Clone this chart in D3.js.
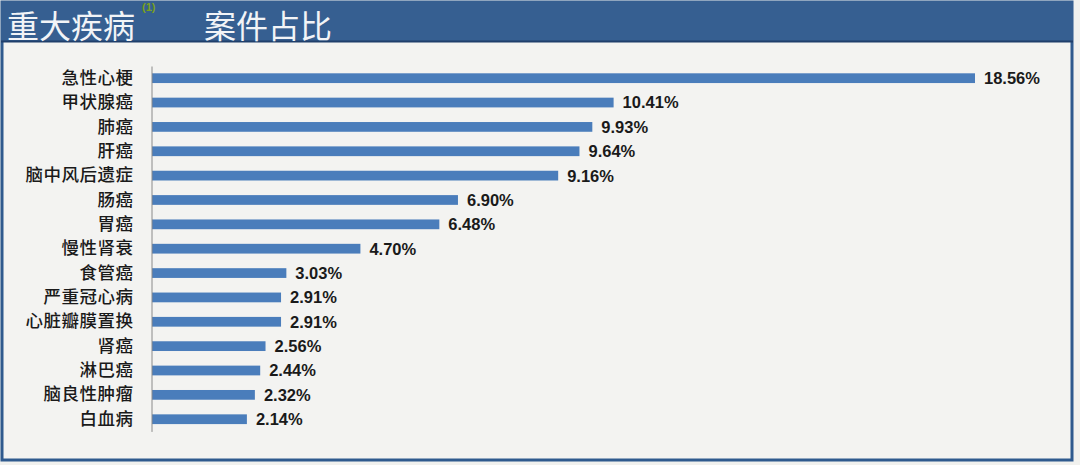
<!DOCTYPE html>
<html><head><meta charset="utf-8">
<script src="https://cdn.jsdelivr.net/npm/d3@7"></script>
<style>
html,body{margin:0;padding:0;background:#f1f1ee;}
svg{display:block;}
</style></head>
<body>
<svg id="c" width="1080" height="465"></svg>
<script>
const categories = ["急性心梗","甲状腺癌","肺癌","肝癌","脑中风后遗症","肠癌","胃癌","慢性肾衰","食管癌","严重冠心病","心脏瓣膜置换","肾癌","淋巴癌","脑良性肿瘤","白血病"];
const values = [18.56,10.41,9.93,9.64,9.16,6.90,6.48,4.70,3.03,2.91,2.91,2.56,2.44,2.32,2.14];
const titleLeft = "重大疾病";
const titleRight = "案件占比";
const badge = "(1)";

const svg = d3.select("#c");
svg.append("rect").attr("x",0).attr("y",0).attr("width",1080).attr("height",465).attr("fill","#f1f1ee");
// panel
svg.append("rect").attr("x",2).attr("y",2).attr("width",1070).attr("height",458)
  .attr("fill","#f3f3f1").attr("stroke","#2f5a8e").attr("stroke-width",3);
// header band
svg.append("rect").attr("x",1).attr("y",1).attr("width",1072).attr("height",40).attr("fill","#365f91");
svg.append("line").attr("x1",1).attr("x2",1073).attr("y1",41.5).attr("y2",41.5).attr("stroke","#1f3f6b").attr("stroke-width",2);
// green decorative fragment near the top-left
svg.append("text").attr("x",142).attr("y",11).attr("fill","#7aa11e").attr("font-size",11)
  .attr("font-family","Liberation Sans, sans-serif").attr("font-weight","bold").text(badge);
// titles
svg.append("text").attr("x",7).attr("y",38).attr("fill","#f2f4f7").attr("font-size",32)
  .attr("font-family","Noto Sans CJK SC").text(titleLeft);
svg.append("text").attr("x",204).attr("y",38).attr("fill","#f2f4f7").attr("font-size",32)
  .attr("font-family","Noto Sans CJK SC").text(titleRight);

const x = d3.scaleLinear().domain([0,18.56]).range([152,975]);
const y = d3.scaleBand().domain(categories).range([66,431.4]).paddingInner(0.6).paddingOuter(0.3);

svg.append("g").selectAll("rect").data(values).join("rect")
  .attr("x",x(0)).attr("y",(d,i)=>y(categories[i]))
  .attr("width",d=>x(d)-x(0)).attr("height",y.bandwidth())
  .attr("fill","#4a7dbb");

const ax = svg.append("g").attr("transform",`translate(${x(0)-0.5},0)`)
  .call(d3.axisLeft(y).tickSize(0).tickPadding(18));
ax.select(".domain").attr("stroke","#8a8a8a").attr("stroke-width",1);
ax.selectAll("text").attr("font-family","Noto Sans CJK SC").attr("font-weight",500)
  .attr("font-size",17.5).attr("letter-spacing","0.5px").attr("fill","#1a1a1a");

svg.append("g").selectAll("text").data(values).join("text")
  .attr("x",d=>x(d)+9).attr("y",(d,i)=>y(categories[i])+y.bandwidth()/2)
  .attr("dy","0.36em").attr("font-family","Liberation Sans, sans-serif").attr("font-weight","bold")
  .attr("font-size",16.5).attr("fill","#1a1a1a")
  .text(d=>d.toFixed(2)+"%");
</script>
</body></html>
